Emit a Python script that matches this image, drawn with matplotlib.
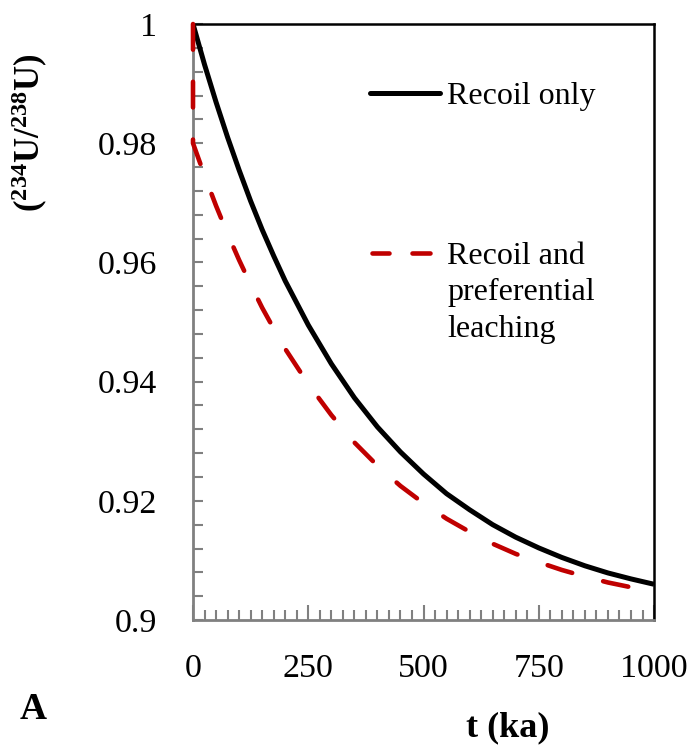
import matplotlib
matplotlib.use("Agg")
import matplotlib.pyplot as plt
from matplotlib.ticker import MultipleLocator, FuncFormatter
from matplotlib.lines import Line2D

plt.rcParams['font.family'] = ['Liberation Serif', 'DejaVu Serif']
plt.rcParams['mathtext.fontset'] = 'custom'
plt.rcParams['mathtext.rm'] = 'Liberation Serif'
plt.rcParams['mathtext.bf'] = 'Liberation Serif:bold'

# values
t_recoil = [0, 25, 50, 75, 100, 125, 150, 175, 200, 250, 300, 350, 400, 450,
            500, 550, 600, 650, 700, 750, 800, 850, 900, 950, 1000]
ratio_recoil = [1.0, 0.9932, 0.9869, 0.9810, 0.9755, 0.9703, 0.9655, 0.9611,
                0.9569, 0.9495, 0.9430, 0.9373, 0.9324, 0.9282, 0.9245, 0.9212,
                0.9185, 0.9160, 0.9139, 0.9121, 0.9105, 0.9091, 0.9079, 0.9069,
                0.9060]

t_leach = [0, 0, 25, 50, 75, 100, 125, 150, 175, 200, 250, 300, 350, 400, 450,
           500, 550, 600, 650, 700, 750, 800, 850, 900, 950, 1000]
ratio_leach = [1.0, 0.980, 0.9746, 0.9695, 0.9648, 0.9604, 0.9563, 0.9524,
               0.9489, 0.9455, 0.9396, 0.9344, 0.9298, 0.9259, 0.9225, 0.9196,
               0.9170, 0.9148, 0.9128, 0.9111, 0.9097, 0.9084, 0.9073, 0.9063,
               0.9055, 0.9048]

label_recoil = "Recoil only"
label_leach = "Recoil and\npreferential\nleaching"

red = '#c00000'
dash = (5.6, 7.0)

fig = plt.figure(figsize=(6.96, 7.51), dpi=100)
ax = fig.add_axes([0.2773, 0.1744, 0.6624, 0.7936])

ax.plot(t_recoil, ratio_recoil, color='black', lw=3.6, solid_capstyle='butt',
        zorder=4)
ax.plot(t_leach, ratio_leach, color=red, lw=3.3, dashes=dash,
        dash_capstyle='round', clip_on=False, zorder=5)

ax.set_xlim(0, 1000)
ax.set_ylim(0.9, 1.0)

ax.xaxis.set_major_locator(MultipleLocator(250))
ax.xaxis.set_minor_locator(MultipleLocator(25))
ax.yaxis.set_major_locator(MultipleLocator(0.02))
ax.yaxis.set_minor_locator(MultipleLocator(0.004))
ax.yaxis.set_major_formatter(FuncFormatter(lambda v, p: f"{v:g}"))

grey = '#808080'
ax.tick_params(axis='both', which='both', direction='in', color=grey, width=1.5,
               labelsize=24.5, top=False, right=False)
ax.tick_params(axis='x', which='major', length=11, pad=24)
ax.tick_params(axis='x', which='minor', length=7)
ax.tick_params(axis='y', which='major', length=7, pad=26)
ax.tick_params(axis='y', which='minor', length=7)

for side in ['left', 'bottom']:
    ax.spines[side].set_color(grey)
    ax.spines[side].set_linewidth(2)
for side in ['top', 'right']:
    ax.spines[side].set_color('black')
    ax.spines[side].set_linewidth(1.8)

# legend drawn by hand
ax.add_line(Line2D([0.384, 0.536], [0.884, 0.884], transform=ax.transAxes,
                   color='black', lw=3.6, solid_capstyle='round'))
ax.text(0.551, 0.878, label_recoil, transform=ax.transAxes, fontsize=23,
        va='center', ha='left')
# two dashes of the red key
for x0, x1 in [(0.389, 0.4245), (0.4757, 0.5134)]:
    ax.add_line(Line2D([x0, x1], [0.616, 0.616], transform=ax.transAxes,
                       color=red, lw=3.3, solid_capstyle='round'))
ax.text(0.551, 0.634, label_leach, transform=ax.transAxes, fontsize=23,
        va='top', ha='left', linespacing=1.33)

fig.text(0.043, 0.823, r'$\mathbf{(^{234}U/^{238}U)}$', rotation=90,
         fontsize=25, ha='center', va='center')
fig.text(0.73, 0.031, 't (ka)', fontsize=26, fontweight='bold',
         ha='center', va='center')
fig.text(0.047, 0.0546, 'A', fontsize=27, fontweight='bold',
         ha='center', va='center')

fig.savefig('out.png', dpi=100)
